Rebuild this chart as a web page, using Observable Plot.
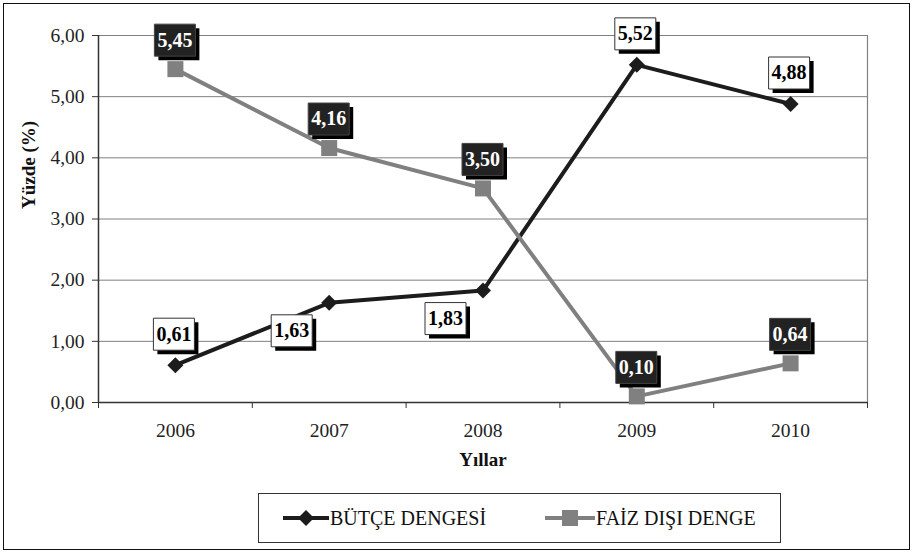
<!DOCTYPE html>
<html>
<head>
<meta charset="utf-8">
<script src="https://cdn.jsdelivr.net/npm/d3@7"></script>
<script src="https://cdn.jsdelivr.net/npm/@observablehq/plot@0.6"></script>
<style>
  body { margin: 0; background: #fff; }
  #wrap { position: relative; width: 914px; height: 554px; font-family: "Liberation Serif", "Times New Roman", serif; color: #111; }
  #frame { position: absolute; left: 3px; top: 3px; width: 907px; height: 547px; border: 1.5px solid #111; box-sizing: border-box; pointer-events: none; }
  #chart { position: absolute; left: 0; top: 0; }
  #legend { position: absolute; left: 258px; top: 493px; width: 523px; height: 50px; border: 1px solid #333; box-sizing: border-box; background: #fff; }
  .item { position: absolute; top: 0; height: 48px; display: flex; align-items: center; font-size: 20px; white-space: nowrap; }
  .item svg { display: block; }
</style>
</head>
<body>
<div id="wrap">
  <div id="chart"></div>
  <div id="legend"></div>
  <div id="frame"></div>
</div>
<script>
// ---- data ----
const years = [2006, 2007, 2008, 2009, 2010];
const butce = [0.61, 1.63, 1.83, 5.52, 4.88];
const faiz = [5.45, 4.16, 3.50, 0.10, 0.64];
const seriesNames = ["BÜTÇE DENGESİ", "FAİZ DIŞI DENGE"];
const yTicks = [0, 1, 2, 3, 4, 5, 6];
const xTitle = "Yıllar";
const yTitle = "Yüzde (%)";

// ---- derived tables ----
const bRows = years.map((y, i) => ({year: y, value: butce[i]}));
const fRows = years.map((y, i) => ({year: y, value: faiz[i]}));
const boundaries = years.map(y => y - 0.5).concat([years[years.length - 1] + 0.5]);
const fmt = v => v.toFixed(2).replace(".", ",");

// labels placed below-left for these Bütçe years (as in reference)
const belowLeftYears = [2007, 2008];
const bAbove = bRows.filter(d => !belowLeftYears.includes(d.year));
const bBelow = bRows.filter(d => belowLeftYears.includes(d.year));

const FONT = '"Liberation Serif", "Times New Roman", serif';
const BLACK = "#1c1c1c";
const GRAY = "#808080";

const diamond = {draw(c) { c.moveTo(0, -8); c.lineTo(8, 0); c.lineTo(0, 8); c.lineTo(-8, 0); c.closePath(); }};
const square = {draw(c) { c.rect(-8, -8, 16, 16); }};
const box = {draw(c) { c.rect(-20, -16, 41, 32); }};

function labelMarks(rows, dx, dy, dark) {
  return [
    Plot.dot(rows, {x: "year", y: "value", symbol: box, r: 10, dx: dx + 4, dy: dy + 4, fill: "#000", stroke: "none"}),
    Plot.dot(rows, {x: "year", y: "value", symbol: box, r: 10, dx, dy,
      fill: dark ? "#222" : "#fff", stroke: dark ? "#444" : "#333", strokeWidth: 1}),
    Plot.text(rows, {x: "year", y: "value", text: d => fmt(d.value), dx: dx + 0.5, dy,
      fontSize: 20, fontWeight: "bold", fill: dark ? "#fff" : "#000", lineAnchor: "middle"})
  ];
}

const chart = Plot.plot({
  width: 914,
  height: 554,
  marginLeft: 98,
  marginRight: 47,
  marginTop: 35,
  marginBottom: 152,
  style: {fontFamily: FONT, color: "#222", background: "transparent", overflow: "visible"},
  x: {type: "linear", domain: [boundaries[0], boundaries[boundaries.length - 1]]},
  y: {domain: [0, 6]},
  marks: [
    Plot.gridY(yTicks, {stroke: GRAY, strokeOpacity: 1, strokeWidth: 1}),
    Plot.ruleX([boundaries[boundaries.length - 1]], {stroke: GRAY, strokeWidth: 1.2}),
    Plot.axisY(yTicks, {tickSize: 6, tickPadding: 8, tickFormat: fmt, fontSize: 19.5, label: null, stroke: "#333"}),
    Plot.axisX(boundaries, {tickSize: 6, tickFormat: () => "", label: null, stroke: "#333"}),
    Plot.axisX(years, {tickSize: 0, tickPadding: 21, tickFormat: d => String(d), fontSize: 19.5, label: null}),
    Plot.ruleX([boundaries[0]], {stroke: "#333", strokeWidth: 1.5}),
    Plot.ruleY([0], {stroke: "#333", strokeWidth: 1.5}),
    Plot.text([xTitle], {frameAnchor: "bottom", dy: 63, fontSize: 19, fontWeight: "bold", fill: "#111"}),
    Plot.text([yTitle], {frameAnchor: "left", dx: -70, dy: -10, rotate: -90, fontSize: 19, fontWeight: "bold", fill: "#111"}),
    Plot.line(bRows, {x: "year", y: "value", stroke: BLACK, strokeWidth: 4}),
    Plot.dot(bRows, {x: "year", y: "value", symbol: diamond, r: 8, fill: BLACK, stroke: "none"}),
    Plot.line(fRows, {x: "year", y: "value", stroke: GRAY, strokeWidth: 4}),
    Plot.dot(fRows, {x: "year", y: "value", symbol: square, r: 8, fill: GRAY, stroke: "none"}),
    ...labelMarks(bAbove, -2, -31, false),
    ...labelMarks(bBelow, -38, 28, false),
    ...labelMarks(fRows, -1, -29, true)
  ]
});
document.getElementById("chart").appendChild(chart);

// ---- legend ----
const legend = document.getElementById("legend");
const legendItems = [
  {name: seriesNames[0], color: BLACK, marker: "diamond", left: 24, w: 46},
  {name: seriesNames[1], color: GRAY, marker: "square", left: 286, w: 50}
];
legendItems.forEach(it => {
  const div = document.createElement("div");
  div.className = "item";
  div.style.left = it.left + "px";
  const ns = "http://www.w3.org/2000/svg";
  const svg = document.createElementNS(ns, "svg");
  svg.setAttribute("width", it.w);
  svg.setAttribute("height", 20);
  const ln = document.createElementNS(ns, "line");
  ln.setAttribute("x1", 0); ln.setAttribute("x2", it.w);
  ln.setAttribute("y1", 10); ln.setAttribute("y2", 10);
  ln.setAttribute("stroke", it.color); ln.setAttribute("stroke-width", 4);
  svg.appendChild(ln);
  const m = document.createElementNS(ns, "path");
  const cx = it.w / 2;
  m.setAttribute("d", it.marker === "diamond"
    ? `M${cx},2L${cx + 8},10L${cx},18L${cx - 8},10Z`
    : `M${cx - 8},2H${cx + 8}V18H${cx - 8}Z`);
  m.setAttribute("fill", it.color);
  svg.appendChild(m);
  div.appendChild(svg);
  const span = document.createElement("span");
  span.textContent = it.name;
  span.style.marginLeft = "1px";
  div.appendChild(span);
  legend.appendChild(div);
});
</script>
</body>
</html>
